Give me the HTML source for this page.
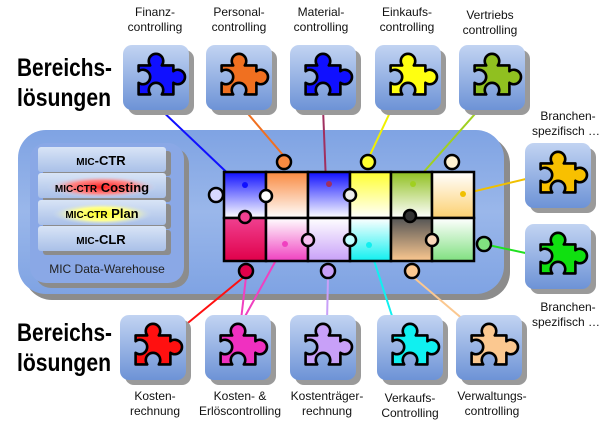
<!DOCTYPE html>
<html><head><meta charset="utf-8"><style>
html,body{margin:0;padding:0;background:#fff;}
svg{display:block;font-family:"Liberation Sans",Arial,sans-serif;}
</style></head><body>
<svg width="610" height="427" viewBox="0 0 610 427" xmlns="http://www.w3.org/2000/svg">
<defs>
<linearGradient id="tile" x1="0" y1="0" x2="0" y2="1"><stop offset="0" stop-color="#c2d4f2"/><stop offset="1" stop-color="#6d93d6"/></linearGradient>
<linearGradient id="big" x1="0" y1="0" x2="0" y2="1"><stop offset="0" stop-color="#7fa3e3"/><stop offset="0.5" stop-color="#9ab7ea"/><stop offset="1" stop-color="#7fa3e3"/></linearGradient>
<linearGradient id="bar" x1="0" y1="0" x2="0" y2="1"><stop offset="0" stop-color="#d8e4f6"/><stop offset="1" stop-color="#a9c0e8"/></linearGradient>
<radialGradient id="red" cx=".5" cy=".5" r=".5"><stop offset="0" stop-color="#ff2020"/><stop offset="0.6" stop-color="#f88"/><stop offset="1" stop-color="#cfdcf2" stop-opacity="0"/></radialGradient>
<radialGradient id="yel" cx=".5" cy=".5" r=".5"><stop offset="0" stop-color="#ffff20"/><stop offset="0.6" stop-color="#ffff90"/><stop offset="1" stop-color="#cfdcf2" stop-opacity="0"/></radialGradient>
<linearGradient id="g1" x1="0" y1="0" x2="0" y2="1"><stop offset="0" stop-color="#1010ff"/><stop offset="1" stop-color="#fff"/></linearGradient>
<linearGradient id="g2" x1="0" y1="0" x2="0" y2="1"><stop offset="0" stop-color="#f98a40"/><stop offset="1" stop-color="#fff"/></linearGradient>
<linearGradient id="g4" x1="0" y1="0" x2="0" y2="1"><stop offset="0" stop-color="#ffff30"/><stop offset="1" stop-color="#fff"/></linearGradient>
<linearGradient id="g5" x1="0" y1="0" x2="0" y2="1"><stop offset="0" stop-color="#90c020"/><stop offset="1" stop-color="#fff"/></linearGradient>
<linearGradient id="g6" x1="0" y1="1" x2="0" y2="0"><stop offset="0" stop-color="#fcd070"/><stop offset="1" stop-color="#fff"/></linearGradient>
<linearGradient id="h1" x1="0" y1="0" x2="0" y2="1"><stop offset="0" stop-color="#f04090"/><stop offset="1" stop-color="#e0004a"/></linearGradient>
<linearGradient id="h2" x1="0" y1="0" x2="0" y2="1"><stop offset="0" stop-color="#fff"/><stop offset="1" stop-color="#f040c0"/></linearGradient>
<linearGradient id="h3" x1="0" y1="0" x2="0" y2="1"><stop offset="0" stop-color="#fff"/><stop offset="1" stop-color="#c8a0f8"/></linearGradient>
<linearGradient id="h4" x1="0" y1="0" x2="0" y2="1"><stop offset="0" stop-color="#fff"/><stop offset="1" stop-color="#10f0f0"/></linearGradient>
<linearGradient id="h5" x1="0" y1="0" x2="0" y2="1"><stop offset="0" stop-color="#555"/><stop offset="1" stop-color="#fbc890"/></linearGradient>
<linearGradient id="h6" x1="0" y1="0" x2="0" y2="1"><stop offset="0" stop-color="#fff"/><stop offset="1" stop-color="#80e080"/></linearGradient>
<path id="pz" d="M8,12 H16 a5,5 0 1,1 8,0 H32 V16 a5,5 0 1,1 0,8 V32 H24 a5,5 0 1,0 -8,0 H8 V24 a5,5 0 1,0 0,-8 Z" stroke="#000" stroke-width="1.8" stroke-linejoin="round"/>
</defs>

<rect x="24" y="136" width="486" height="164" rx="28" fill="#8c8c8c"/>
<rect x="18" y="130" width="486" height="164" rx="28" fill="url(#big)"/>
<rect x="35" y="148" width="154" height="140" rx="16" fill="#8c8c8c"/>
<rect x="30" y="143" width="154" height="140" rx="16" fill="#8aa8e6"/>
<g>
<rect x="43" y="151" width="128" height="25" rx="3" fill="#8c8c8c"/><rect x="38" y="147" width="128" height="25" rx="3" fill="url(#bar)"/>
<rect x="43" y="177" width="128" height="25" rx="3" fill="#8c8c8c"/><rect x="38" y="173" width="128" height="25" rx="3" fill="url(#bar)"/>
<ellipse cx="102" cy="187" rx="55" ry="11" fill="url(#red)"/>
<rect x="43" y="204" width="128" height="25" rx="3" fill="#8c8c8c"/><rect x="38" y="200" width="128" height="25" rx="3" fill="url(#bar)"/>
<ellipse cx="102" cy="214" rx="50" ry="11" fill="url(#yel)"/>
<rect x="43" y="230" width="128" height="25" rx="3" fill="#8c8c8c"/><rect x="38" y="226" width="128" height="25" rx="3" fill="url(#bar)"/>
</g>
<g font-weight="bold" font-size="13" text-anchor="middle" fill="#000">
<text x="101" y="165"><tspan font-size="10">MIC</tspan>-CTR</text>
<text x="102" y="192"><tspan font-size="10">MIC-CTR</tspan> Costing</text>
<text x="102" y="218"><tspan font-size="10">MIC-CTR</tspan> Plan</text>
<text x="101" y="244"><tspan font-size="10">MIC</tspan>-CLR</text>
</g>
<text x="107" y="273" font-size="12" text-anchor="middle" fill="#222">MIC Data-Warehouse</text>

<g stroke-width="2" fill="none">
<line x1="157" y1="106" x2="240" y2="185" stroke="#1010ff"/>
<line x1="243" y1="108" x2="283" y2="155" stroke="#f07020"/>
<line x1="323" y1="108" x2="326" y2="183" stroke="#a03060"/>
<line x1="393" y1="106" x2="370" y2="155" stroke="#f0f000"/>
<line x1="482" y1="106" x2="414" y2="183" stroke="#a0d020"/>
<line x1="463" y1="194" x2="530" y2="178" stroke="#f0c000"/>
<line x1="488" y1="245" x2="530" y2="254" stroke="#20e020"/>
<line x1="245" y1="276" x2="172" y2="336" stroke="#ff1010"/>
<line x1="246" y1="277" x2="241" y2="320" stroke="#f040c0"/>
<line x1="285" y1="244" x2="243" y2="320" stroke="#f040c0"/>
<line x1="328" y1="277" x2="327" y2="322" stroke="#c8a0f8"/>
<line x1="369" y1="245" x2="394" y2="322" stroke="#10f0f0"/>
<line x1="412" y1="276" x2="478" y2="332" stroke="#fbc890"/>
</g>

<g stroke="#000" stroke-width="2.5">
<rect x="224" y="172" width="42" height="46" fill="url(#g1)"/>
<rect x="266" y="172" width="42" height="46" fill="url(#g2)"/>
<rect x="308" y="172" width="42" height="46" fill="url(#g1)"/>
<rect x="350" y="172" width="41" height="46" fill="url(#g4)"/>
<rect x="391" y="172" width="41" height="46" fill="url(#g5)"/>
<rect x="432" y="172" width="42" height="46" fill="url(#g6)"/>
<rect x="224" y="218" width="42" height="43" fill="url(#h1)"/>
<rect x="266" y="218" width="42" height="43" fill="url(#h2)"/>
<rect x="308" y="218" width="42" height="43" fill="url(#h3)"/>
<rect x="350" y="218" width="41" height="43" fill="url(#h4)"/>
<rect x="391" y="218" width="41" height="43" fill="url(#h5)"/>
<rect x="432" y="218" width="42" height="43" fill="url(#h6)"/>
<circle cx="284" cy="162" r="7" fill="#f98a40"/>
<circle cx="368" cy="162" r="7" fill="#ffff30"/>
<circle cx="452" cy="162" r="7" fill="#fff2d0"/>
<circle cx="216" cy="195" r="7" fill="#d8d8ff"/>
<circle cx="246" cy="271" r="7" fill="#e0004a"/>
<circle cx="328" cy="271" r="7" fill="#c8a0f8"/>
<circle cx="412" cy="271" r="7" fill="#fbc890"/>
<circle cx="484" cy="244" r="7" fill="#80e080"/>
<circle cx="266" cy="196" r="6" fill="#fff"/>
<circle cx="350" cy="195" r="6" fill="#eee"/>
<circle cx="245" cy="217" r="6" fill="#f04090"/>
<circle cx="410" cy="216" r="6" fill="#333"/>
<circle cx="308" cy="240" r="6" fill="#f8c0f0"/>
<circle cx="350" cy="240" r="6" fill="#c0ffff"/>
<circle cx="432" cy="240" r="6" fill="#f8d8b8"/>
</g>
<circle cx="245" cy="185" r="3" fill="#1010ff"/>
<circle cx="329" cy="184" r="3" fill="#a03060"/>
<circle cx="413" cy="184" r="3" fill="#a0d020"/>
<circle cx="463" cy="194" r="3" fill="#f0c000"/>
<circle cx="285" cy="244" r="3" fill="#f040c0"/>
<circle cx="369" cy="245" r="3" fill="#10f0f0"/>

<g>
<g transform="translate(123,45)"><rect x="5" y="5" width="66" height="65" rx="9" fill="#9a9a9a"/><rect width="66" height="65" rx="9" fill="url(#tile)"/><use href="#pz" transform="translate(4,3) scale(1.45)" fill="#1010ff"/></g>
<g transform="translate(206,45)"><rect x="5" y="5" width="66" height="65" rx="9" fill="#9a9a9a"/><rect width="66" height="65" rx="9" fill="url(#tile)"/><use href="#pz" transform="translate(4,3) scale(1.45)" fill="#f07020"/></g>
<g transform="translate(290,45)"><rect x="5" y="5" width="66" height="65" rx="9" fill="#9a9a9a"/><rect width="66" height="65" rx="9" fill="url(#tile)"/><use href="#pz" transform="translate(4,3) scale(1.45)" fill="#1010ff"/></g>
<g transform="translate(375,45)"><rect x="5" y="5" width="66" height="65" rx="9" fill="#9a9a9a"/><rect width="66" height="65" rx="9" fill="url(#tile)"/><use href="#pz" transform="translate(4,3) scale(1.45)" fill="#ffff10"/></g>
<g transform="translate(459,45)"><rect x="5" y="5" width="66" height="65" rx="9" fill="#9a9a9a"/><rect width="66" height="65" rx="9" fill="url(#tile)"/><use href="#pz" transform="translate(4,3) scale(1.45)" fill="#90c020"/></g>
<g transform="translate(525,143)"><rect x="5" y="5" width="66" height="65" rx="9" fill="#9a9a9a"/><rect width="66" height="65" rx="9" fill="url(#tile)"/><use href="#pz" transform="translate(4,3) scale(1.45)" fill="#f8c000"/></g>
<g transform="translate(525,224)"><rect x="5" y="5" width="66" height="65" rx="9" fill="#9a9a9a"/><rect width="66" height="65" rx="9" fill="url(#tile)"/><use href="#pz" transform="translate(4,3) scale(1.45)" fill="#10e010"/></g>
<g transform="translate(120,315)"><rect x="5" y="5" width="66" height="65" rx="9" fill="#9a9a9a"/><rect width="66" height="65" rx="9" fill="url(#tile)"/><use href="#pz" transform="translate(4,3) scale(1.45)" fill="#ff1010"/></g>
<g transform="translate(205,315)"><rect x="5" y="5" width="66" height="65" rx="9" fill="#9a9a9a"/><rect width="66" height="65" rx="9" fill="url(#tile)"/><use href="#pz" transform="translate(4,3) scale(1.45)" fill="#f030c0"/></g>
<g transform="translate(290,315)"><rect x="5" y="5" width="66" height="65" rx="9" fill="#9a9a9a"/><rect width="66" height="65" rx="9" fill="url(#tile)"/><use href="#pz" transform="translate(4,3) scale(1.45)" fill="#c8a0f8"/></g>
<g transform="translate(377,315)"><rect x="5" y="5" width="66" height="65" rx="9" fill="#9a9a9a"/><rect width="66" height="65" rx="9" fill="url(#tile)"/><use href="#pz" transform="translate(4,3) scale(1.45)" fill="#10f0f0"/></g>
<g transform="translate(456,315)"><rect x="5" y="5" width="66" height="65" rx="9" fill="#9a9a9a"/><rect width="66" height="65" rx="9" fill="url(#tile)"/><use href="#pz" transform="translate(4,3) scale(1.45)" fill="#fbc890"/></g>
</g>

<g font-size="25" font-weight="bold" fill="#000">
<text x="17" y="76" textLength="95" lengthAdjust="spacingAndGlyphs">Bereichs-</text><text x="17" y="106" textLength="94" lengthAdjust="spacingAndGlyphs">lösungen</text>
<text x="17" y="341" textLength="95" lengthAdjust="spacingAndGlyphs">Bereichs-</text><text x="17" y="371" textLength="94" lengthAdjust="spacingAndGlyphs">lösungen</text>
</g>
<g font-size="12" fill="#111" text-anchor="middle">
<text x="155" y="16">Finanz-</text><text x="155" y="31">controlling</text>
<text x="239" y="16">Personal-</text><text x="239" y="31">controlling</text>
<text x="321" y="16">Material-</text><text x="321" y="31">controlling</text>
<text x="407" y="16">Einkaufs-</text><text x="407" y="31">controlling</text>
<text x="490" y="19">Vertriebs</text><text x="490" y="34">controlling</text>
<text x="568" y="120">Branchen-</text><text x="566" y="135">spezifisch …</text>
<text x="568" y="311">Branchen-</text><text x="566" y="326">spezifisch …</text>
<text x="155" y="400">Kosten-</text><text x="155" y="415">rechnung</text>
<text x="240" y="400">Kosten- &amp;</text><text x="240" y="415">Erlöscontrolling</text>
<text x="327" y="400">Kostenträger-</text><text x="327" y="415">rechnung</text>
<text x="410" y="402">Verkaufs-</text><text x="410" y="417">Controlling</text>
<text x="492" y="400">Verwaltungs-</text><text x="492" y="415">controlling</text>
</g>
</svg>
</body></html>
